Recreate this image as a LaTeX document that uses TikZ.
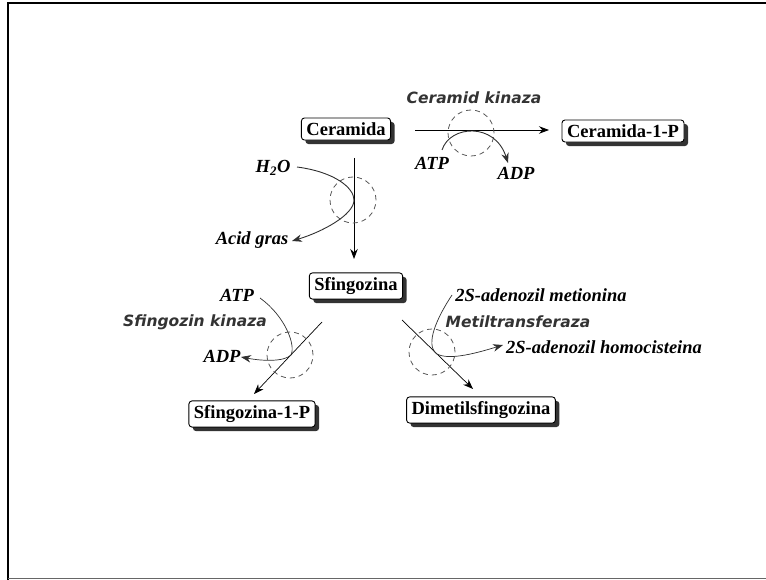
\documentclass[tikz,border=0pt]{standalone}
\usepackage{fontspec}
\setmainfont{Liberation Serif}
\newfontfamily\enzfont{DejaVu Sans}
\usetikzlibrary{arrows.meta,shadows}
\definecolor{enzgray}{HTML}{333333}
\definecolor{curvegray}{HTML}{303030}
\tikzset{
  mol/.style={draw=black, line width=0.9pt, fill=white, rounded corners=3pt,
    inner xsep=5pt, inner ysep=4.5pt, font=\fontsize{18.5}{20}\selectfont\bfseries,
    drop shadow={shadow xshift=4pt, shadow yshift=-4pt, fill=black!80, opacity=1}},
  cof/.style={font=\fontsize{18.5}{20}\selectfont\bfseries\itshape, inner sep=1pt},
  enz/.style={font=\enzfont\fontsize{15.5}{17}\selectfont\bfseries\itshape, text=enzgray, inner sep=1pt},
  mainarr/.style={line width=0.9pt, -{Stealth[length=10pt,width=7.5pt]}},
  sidearr/.style={line width=0.9pt, draw=curvegray, -{Stealth[length=10pt,width=7.5pt]}},
  ring/.style={draw=black!65, dashed, dash pattern=on 5pt off 4pt, line width=0.8pt}
}
\begin{document}
\begin{tikzpicture}[x=1pt,y=-1pt]
\useasboundingbox (0,0) rectangle (766,580);
% frame
\draw[line width=2.5pt] (8,580) -- (8,3) -- (766,3);
\draw[line width=0.8pt, black!60] (8,578.5) -- (766,578.5);

% molecules
\node[mol] (cer) at (346,129) {Ceramida};
\node[mol] (cerp) at (623,131) {Ceramida-1-P};
\node[mol] (sf) at (356,286) {Sfingozina};
\node[mol] (sfp) at (252,414) {Sfingozina-1-P};
\node[mol] (dm) at (481,410) {Dimetilsfingozina};

% reaction 1: Ceramid kinaza
\coordinate (r1a) at (415,130);
\coordinate (r1b) at (549,130);
\draw[mainarr] (r1a) -- (r1b);
\node[ring, circle, minimum size=46pt, inner sep=0pt] (c1) at (471,133) {};
\node[enz] (e1) at (474,98) {Ceramid kinaza};
\node[cof] (atp1) at (432,163) {ATP};
\node[cof] (adp1) at (516,173) {ADP};
\coordinate (s1) at (442,150);
\coordinate (t1) at (508,163);
\draw[sidearr] (s1) .. controls (450,125) and (495,122) .. (t1);

% reaction 2: hydrolysis
\coordinate (r2a) at (354,158);
\coordinate (r2b) at (354,259);
\draw[mainarr] (r2a) -- (r2b);
\node[ring, circle, minimum size=46pt, inner sep=0pt] (c2) at (353,200) {};
\node[cof] (h2o) at (273,168) {H\textsubscript{2}O};
\node[cof] (ag) at (252,240) {Acid gras};
\coordinate (s2) at (297,167);
\coordinate (t2) at (292,241);
\draw[sidearr] (s2) .. controls (335,172) and (354,188) .. (354,200)
   .. controls (354,215) and (322,232) .. (t2);

% reaction 3: Sfingozin kinaza
\coordinate (r3a) at (322,322);
\coordinate (r3b) at (254,394);
\draw[mainarr, line width=0.7pt] (r3a) -- (r3b);
\node[ring, circle, minimum size=46pt, inner sep=0pt] (c3) at (290,355) {};
\node[enz] (e3) at (195,322) {Sfingozin kinaza};
\node[cof] (atp3) at (237,295) {ATP};
\node[cof] (adp3) at (222,356) {ADP};
\coordinate (s3) at (260,298);
\coordinate (t3) at (241,357);
\draw[sidearr, line width=0.7pt] (s3) .. controls (285,316) and (296,345) .. (291,355)
   .. controls (284,362) and (262,361) .. (t3);

% reaction 4: Metiltransferaza
\coordinate (r4a) at (402,320);
\coordinate (r4b) at (473,389);
\draw[mainarr, line width=0.7pt] (r4a) -- (r4b);
\node[ring, circle, minimum size=46pt, inner sep=0pt] (c4) at (432,352) {};
\node[enz] (e4) at (518,322) {Metiltransferaza};
\node[cof] (sam) at (541,295) {2S-adenozil metionina};
\node[cof] (sah) at (604,347) {2S-adenozil homocisteina};
\coordinate (s4) at (452,295);
\coordinate (t4) at (503,345);
\draw[sidearr, line width=0.7pt] (s4) .. controls (438,316) and (424,345) .. (437,354)
   .. controls (450,361) and (480,352) .. (t4);
\end{tikzpicture}
\end{document}
